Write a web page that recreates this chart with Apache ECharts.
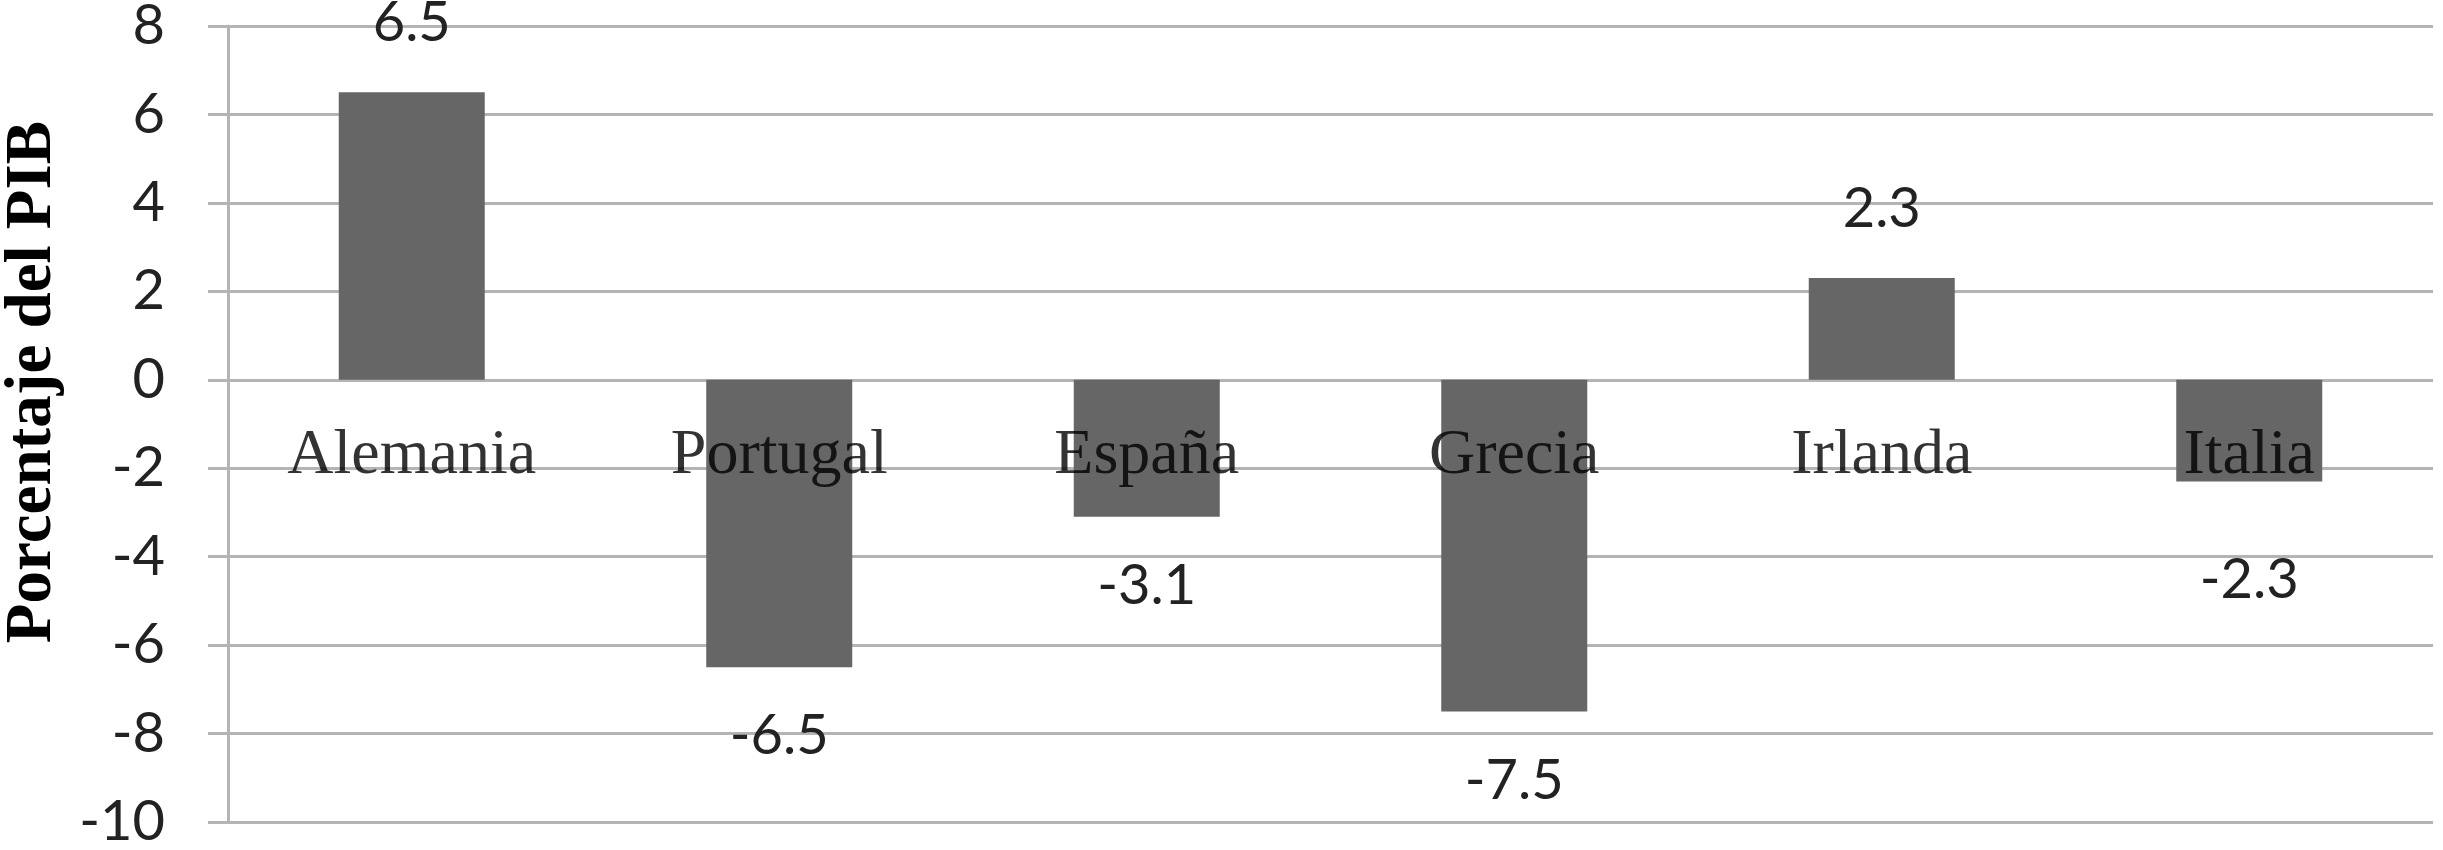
<!DOCTYPE html>
<html>
<head>
<meta charset="utf-8">
<script src="https://cdn.jsdelivr.net/npm/echarts@6/dist/echarts.min.js"></script>
<style>
  html, body { margin: 0; padding: 0; background: #fff; }
  #main { width: 2443px; height: 850px; }
</style>
</head>
<body>
<div id="main"></div>
<script>
// datos
var paises = ['Alemania', 'Portugal', 'España', 'Grecia', 'Irlanda', 'Italia'];
var valores = [6.5, -6.5, -3.1, -7.5, 2.3, -2.3];
var ejeMin = -10, ejeMax = 8, ejePaso = 2;

var gris = '#b4b4b4';
var numFont = 'Lato, "Open Sans", sans-serif';
var serif = '"Liberation Serif", "Times New Roman", serif';

// la etiqueta de Italia esta un poco mas abajo en el original
var distanciaEtiqueta = {Italia: 70};

var myChart = echarts.init(document.getElementById('main'));

var option = {
    animation: false,
    backgroundColor: '#fff',
    grid: {left: 228, right: 10, top: 26, bottom: 28, outerBoundsMode: 'none', containLabel: false},
    xAxis: {
        type: 'category',
        data: paises,
        axisLine: {show: false},
        axisTick: {show: false},
        axisLabel: {show: false}
    },
    yAxis: {
        type: 'value',
        min: ejeMin,
        max: ejeMax,
        interval: ejePaso,
        axisLine: {show: true, lineStyle: {color: gris, width: 3}},
        axisTick: {show: true, length: 20, lineStyle: {color: gris, width: 3}},
        splitLine: {lineStyle: {color: gris, width: 3}},
        axisLabel: {
            margin: 63,
            color: '#222',
            fontFamily: numFont,
            fontSize: 56
        }
    },
    graphic: [{
        type: 'text',
        x: 33,
        y: 382,
        rotation: Math.PI / 2,
        style: {
            text: 'Porcentaje del PIB',
            font: 'bold 65px ' + serif,
            fill: '#000',
            textAlign: 'center',
            textVerticalAlign: 'middle'
        }
    }],
    series: [{
        type: 'bar',
        barWidth: 146,
        itemStyle: {color: '#666666'},
        data: valores.map(function (v, i) {
            var d = distanciaEtiqueta[paises[i]] || 41;
            return {
                value: v,
                label: {position: v >= 0 ? 'top' : 'bottom', distance: d}
            };
        }),
        label: {
            show: true,
            color: '#222',
            fontFamily: numFont,
            fontSize: 56,
            formatter: function (p) { return p.value.toFixed(1); }
        }
    }, {
        // nombres de los paises sobre la linea del cero, encima de las barras
        type: 'scatter',
        symbolSize: 0,
        z: 10,
        silent: true,
        data: paises.map(function (p) { return [p, 0]; }),
        label: {
            show: true,
            position: 'bottom',
            distance: 44,
            color: '#000',
            fontFamily: serif,
            fontSize: 64,
            formatter: function (p) { return p.name || p.value[0]; }
        }
    }]
};
myChart.setOption(option);
</script>
</body>
</html>
